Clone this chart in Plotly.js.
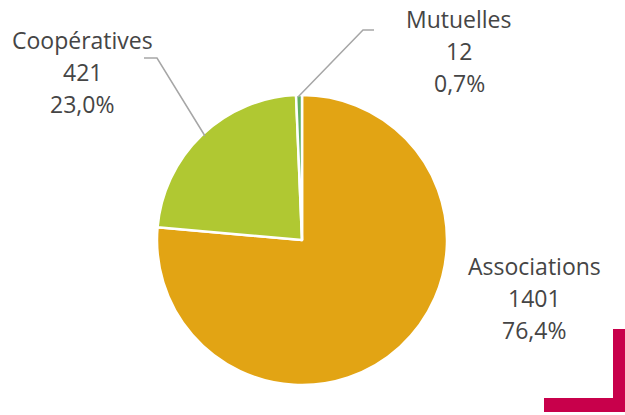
<!DOCTYPE html>
<html><head><meta charset="utf-8">
<script src="https://cdn.plot.ly/plotly-3.0.1.min.js"></script>
<style>html,body{margin:0;padding:0;background:#fff}#c{width:625px;height:415px}</style>
</head><body><div id="c"></div>
<script>
var labels = ["Associations", "Coopératives", "Mutuelles"];
var values = [1401, 421, 12];
var percents = ["76,4%", "23,0%", "0,7%"];
var colors = ["#E2A414", "#B0C832", "#5FAE5F"];

var W = 625, H = 415;
function px(x){return x / W;}
function py(y){return 1 - y / H;}

var labelPos = [[534, 266], [82, 40], [459, 19]];
var lineGap = 32;

var annotations = [];
for (var i = 0; i < labels.length; i++) {
  var lines = [labels[i], String(values[i]), percents[i]];
  for (var j = 0; j < lines.length; j++) {
    annotations.push({
      text: lines[j], xref: 'paper', yref: 'paper',
      x: px(labelPos[i][0]), y: py(labelPos[i][1] + j * lineGap),
      xanchor: 'center', yanchor: 'middle', showarrow: false,
      font: {family: 'Open Sans, sans-serif', size: 23, color: '#454545'}
    });
  }
}

function path(pts){
  return pts.map(function(p, k){return (k ? 'L' : 'M') + px(p[0]) + ',' + py(p[1]);}).join(' ');
}

var shapes = [
  {type: 'path', xref: 'paper', yref: 'paper', path: path([[298,97],[363,30],[374,30]]), line: {color: '#A6A6A6', width: 1.5}},
  {type: 'path', xref: 'paper', yref: 'paper', path: path([[144,58],[157,58],[205,136]]), line: {color: '#A6A6A6', width: 1.5}},
  {type: 'rect', xref: 'paper', yref: 'paper', x0: px(613), x1: px(626), y0: py(329), y1: py(412), fillcolor: '#C8004B', line: {width: 0}},
  {type: 'rect', xref: 'paper', yref: 'paper', x0: px(544), x1: px(626), y0: py(398), y1: py(412), fillcolor: '#C8004B', line: {width: 0}}
];

var cx = 302, cy = 240, r = 145;
var data = [{
  type: 'pie', labels: labels, values: values, sort: false, direction: 'clockwise', rotation: 0,
  marker: {colors: colors, line: {color: '#FFFFFF', width: 2.5}},
  textinfo: 'none', hoverinfo: 'none',
  domain: {x: [px(cx - r), px(cx + r)], y: [py(cy + r), py(cy - r)]}
}];

var layout = {
  width: W, height: H, margin: {l: 0, r: 0, t: 0, b: 0},
  paper_bgcolor: '#FFFFFF', plot_bgcolor: '#FFFFFF', showlegend: false,
  annotations: annotations, shapes: shapes
};
Plotly.newPlot('c', data, layout, {displayModeBar: false, staticPlot: true});
</script></body></html>
